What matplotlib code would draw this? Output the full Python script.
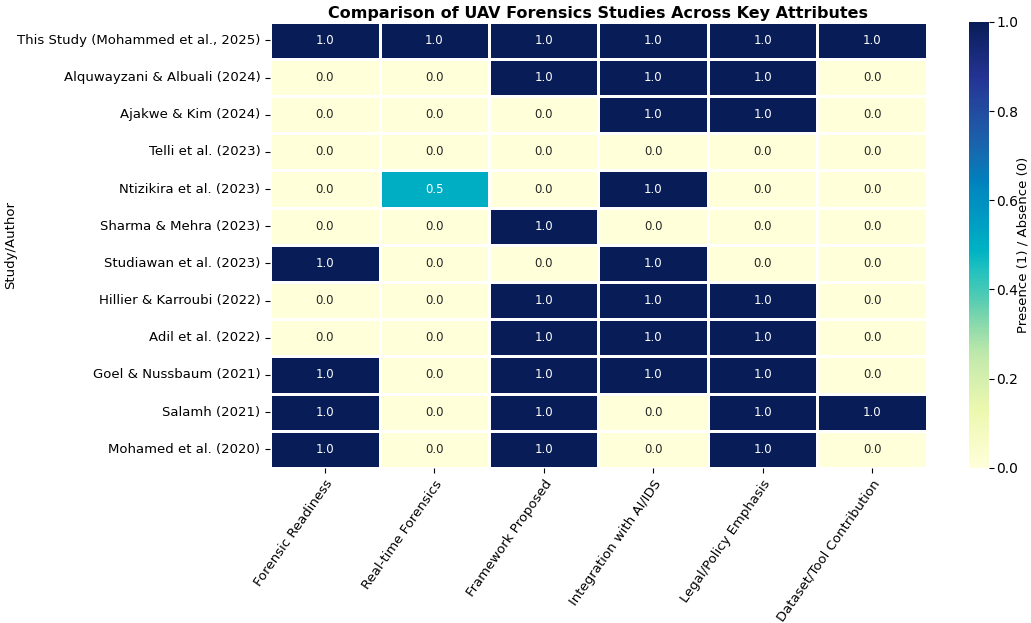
import matplotlib
matplotlib.use("Agg")
import matplotlib.pyplot as plt
import matplotlib.colors as mcolors
import seaborn as sns
import numpy as np
import pandas as pd

studies = [
    "This Study (Mohammed et al., 2025)",
    "Alquwayzani & Albuali (2024)",
    "Ajakwe & Kim (2024)",
    "Telli et al. (2023)",
    "Ntizikira et al. (2023)",
    "Sharma & Mehra (2023)",
    "Studiawan et al. (2023)",
    "Hillier & Karroubi (2022)",
    "Adil et al. (2022)",
    "Goel & Nussbaum (2021)",
    "Salamh (2021)",
    "Mohamed et al. (2020)",
]
attributes = [
    "Forensic Readiness",
    "Real-time Forensics",
    "Framework Proposed",
    "Integration with AI/IDS",
    "Legal/Policy Emphasis",
    "Dataset/Tool Contribution",
]
forensic_readiness = [1, 0, 0, 0, 0, 0, 1, 0, 0, 1, 1, 1]
realtime_forensics = [1, 0, 0, 0, 0.5, 0, 0, 0, 0, 0, 0, 0]
framework_proposed = [1, 1, 0, 0, 0, 1, 0, 1, 1, 1, 1, 1]
integration_ai_ids = [1, 1, 1, 0, 1, 0, 1, 1, 1, 1, 0, 0]
legal_policy = [1, 1, 1, 0, 0, 0, 0, 1, 1, 1, 1, 1]
dataset_tool = [1, 0, 0, 0, 0, 0, 0, 0, 0, 0, 1, 0]

df = pd.DataFrame(
    {
        attributes[0]: forensic_readiness,
        attributes[1]: realtime_forensics,
        attributes[2]: framework_proposed,
        attributes[3]: integration_ai_ids,
        attributes[4]: legal_policy,
        attributes[5]: dataset_tool,
    },
    index=studies,
)

# Slightly more saturated YlGnBu in the mid range, as in the reference rendering
base = plt.get_cmap("YlGnBu")
t = np.linspace(0, 1, 256)
rgb = base(t)[:, :3]
hsv = mcolors.rgb_to_hsv(rgb)
w = np.exp(-((t - 0.45) / 0.18) ** 2)
hsv[:, 1] = np.clip(hsv[:, 1] * (1 + 0.6 * w), 0, 1)
cmap = mcolors.ListedColormap(mcolors.hsv_to_rgb(hsv), name="YlGnBu_sat")

fig = plt.figure(figsize=(10.31, 6.23), dpi=100)
ax = fig.add_axes([0.262, 0.249, 0.637, 0.716])
cax = fig.add_axes([0.940, 0.249, 0.019, 0.716])
sns.heatmap(
    df, ax=ax, cbar_ax=cax, cmap=cmap, annot=True, fmt=".1f",
    linewidths=1, linecolor="white", vmin=0, vmax=1,
    annot_kws={"fontsize": 8.5},
    cbar_kws={"label": "Presence (1) / Absence (0)"},
)
ax.set_title("Comparison of UAV Forensics Studies Across Key Attributes",
             fontsize=11.5, fontweight="bold", pad=3)
ax.set_ylabel("Study/Author", fontsize=9.5)
ax.yaxis.set_label_coords(-0.385, 0.5)
ax.set_xlabel("")
ax.set_xticklabels(ax.get_xticklabels(), rotation=55, ha="right",
                   rotation_mode="anchor", fontsize=9.5)
ax.set_yticklabels(ax.get_yticklabels(), rotation=0, fontsize=9.5)
cax.tick_params(labelsize=10, pad=2)
cax.set_ylabel("Presence (1) / Absence (0)", fontsize=9.5)
cax.yaxis.set_label_coords(2.4, 0.5)
fig.savefig("out.png", dpi=100)
